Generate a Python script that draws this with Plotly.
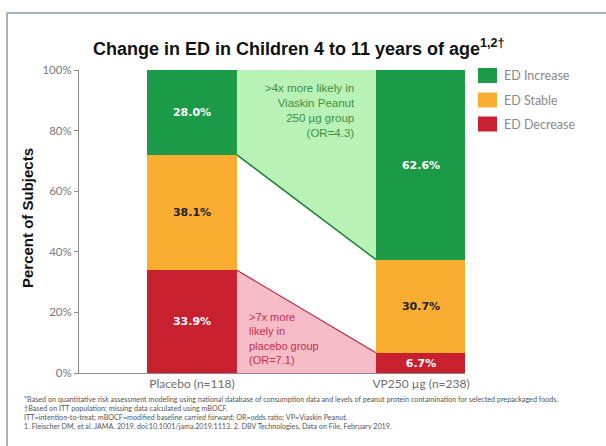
import plotly.graph_objects as go

# ---- data ----
groups = ["Placebo (n=118)", "VP250 µg (n=238)"]
categories = ["ED Decrease", "ED Stable", "ED Increase"]
decrease = [33.9, 6.7]
stable = [38.1, 30.7]
increase = [28.0, 62.6]
y_ticks = [0, 20, 40, 60, 80, 100]
y_tick_labels = ["0%", "20%", "40%", "60%", "80%", "100%"]
or_vp_text = ">4x more likely in<br>Viaskin Peanut<br>250 µg group<br>(OR=4.3)"
or_pl_text = ">7x more<br>likely in<br>placebo group<br>(OR=7.1)"
footnotes = [
    "*Based on quantitative risk assessment modeling using national database of consumption data and levels of peanut protein contamination for selected prepackaged foods.",
    "†Based on ITT population; missing data calculated using mBOCF.",
    "ITT=intention-to-treat; mBOCF=modified baseline carried forward; OR=odds ratio; VP=Viaskin Peanut.",
    "1. Fleischer DM, et al. JAMA. 2019. doi:10.1001/jama.2019.1113. 2. DBV Technologies, Data on File, February 2019.",
]

colors = {"ED Increase": "#1b9a47", "ED Stable": "#f9ae32", "ED Decrease": "#c8202f"}
label_colors = {"ED Increase": "white", "ED Stable": "#222222", "ED Decrease": "white"}

W, H = 606, 446
L, R, T, B = 79, 141, 70, 73
pw, ph = W - L - R, H - T - B

def px(x):
    return (x - L) / pw

def py(y):
    return (H - B - y) / ph

xpos = [0, 1]
bw = 0.393
fig = go.Figure()

series = {"ED Decrease": decrease, "ED Stable": stable, "ED Increase": increase}

# shaded comparison regions (built from data)
x0 = xpos[0] + bw / 2
x1 = xpos[1] - bw / 2
top0 = decrease[0] + stable[0]
top1 = decrease[1] + stable[1]
fig.add_trace(go.Scatter(
    x=[x0, x1, x1, x0, x0], y=[100, 100, top1, top0, 100],
    fill="toself", fillcolor="#b9f2b6", mode="lines", line=dict(width=0),
    hoverinfo="skip", showlegend=False))
fig.add_trace(go.Scatter(
    x=[x0, x1], y=[top0, top1], mode="lines",
    line=dict(color="#1f7f3b", width=1.5), hoverinfo="skip", showlegend=False))
fig.add_trace(go.Scatter(
    x=[x0, x1, x1, x0, x0], y=[decrease[0], decrease[1], 0, 0, decrease[0]],
    fill="toself", fillcolor="#f6bcc7", mode="lines", line=dict(width=0),
    hoverinfo="skip", showlegend=False))
fig.add_trace(go.Scatter(
    x=[x0, x1], y=[decrease[0], decrease[1]], mode="lines",
    line=dict(color="#b8283f", width=1.2), hoverinfo="skip", showlegend=False))

for cat in categories:
    vals = series[cat]
    fig.add_trace(go.Bar(
        x=xpos, y=vals, width=bw, name=cat,
        marker=dict(color=colors[cat], line=dict(width=0)),
        text=[f"{v:.1f}%" for v in vals], textposition="inside",
        insidetextanchor="middle",
        textfont=dict(family="DejaVu Sans", size=11, color=label_colors[cat]),
        texttemplate="<b>%{text}</b>",
        constraintext="none",
        showlegend=False))

annotations = []
# title
annotations.append(dict(
    x=px(299), y=py(47), xref="paper", yref="paper",
    text="<b>Change in ED in Children 4 to 11 years of age<sup>1,2†</sup></b>",
    showarrow=False, font=dict(family="Liberation Sans", size=18, color="#111111"),
    xanchor="center", yanchor="middle"))
# y title
annotations.append(dict(
    x=px(27), y=py(218), xref="paper", yref="paper",
    text="<b>Percent of Subjects</b>", textangle=-90, showarrow=False,
    font=dict(family="Liberation Sans", size=15, color="#111111"),
    xanchor="center", yanchor="middle"))
# OR texts
annotations.append(dict(
    x=px(357), y=py(80), xref="paper", yref="paper", text=or_vp_text,
    align="right", xanchor="right", yanchor="top", showarrow=False,
    font=dict(family="Liberation Sans", size=11.5, color="#3f8f3f")))
annotations.append(dict(
    x=px(247), y=py(309), xref="paper", yref="paper", text=or_pl_text,
    align="left", xanchor="left", yanchor="top", showarrow=False,
    font=dict(family="Liberation Sans", size=11, color="#c4304c")))

# legend (manual)
shapes = []
leg_y = [75.5, 100, 124]
for cat, ly in zip(["ED Increase", "ED Stable", "ED Decrease"], leg_y):
    shapes.append(dict(type="rect", xref="paper", yref="paper",
                       x0=px(478), x1=px(497), y0=py(ly - 7.5), y1=py(ly + 7.5),
                       fillcolor=colors[cat], line=dict(width=0)))
    annotations.append(dict(x=px(502), y=py(ly), xref="paper", yref="paper",
                            text=cat, showarrow=False, xanchor="left", yanchor="middle",
                            font=dict(family="Lato", size=12.5, color="#8a8a8a")))

# footnotes
for i, fn in enumerate(footnotes):
    annotations.append(dict(x=px(22), y=py(399 + 9.2 * i), xref="paper", yref="paper",
                            text=fn, showarrow=False, xanchor="left", yanchor="middle",
                            font=dict(family="Lato", size=7.2, color="#555555")))

# slide frame
shapes.append(dict(type="line", xref="paper", yref="paper",
                   x0=px(7), x1=px(606), y0=py(13), y1=py(13),
                   line=dict(color="#8499b3", width=1.5)))
shapes.append(dict(type="line", xref="paper", yref="paper",
                   x0=px(7), x1=px(7), y0=py(13), y1=py(446),
                   line=dict(color="#8499b3", width=1.5)))

fig.update_layout(
    width=W, height=H,
    margin=dict(l=L, r=R, t=T, b=B, pad=0),
    paper_bgcolor="white", plot_bgcolor="white",
    barmode="stack", bargap=0,
    showlegend=False,
    annotations=annotations, shapes=shapes,
    xaxis=dict(range=[-0.493, 1.192], tickvals=xpos, ticktext=groups,
               showgrid=False, zeroline=False, showline=True,
               linecolor="#8c8c8c", linewidth=1, ticks="",
               tickfont=dict(family="Lato", size=12, color="#6e6e6e")),
    yaxis=dict(range=[0, 100], tickvals=y_ticks, ticktext=y_tick_labels,
               showgrid=False, zeroline=False, showline=True,
               linecolor="#8c8c8c", linewidth=1, ticks="outside",
               ticklen=4, tickcolor="#8c8c8c",
               tickfont=dict(family="Lato", size=11.5, color="#7a7a7a")),
)

fig.write_html("out.html")
